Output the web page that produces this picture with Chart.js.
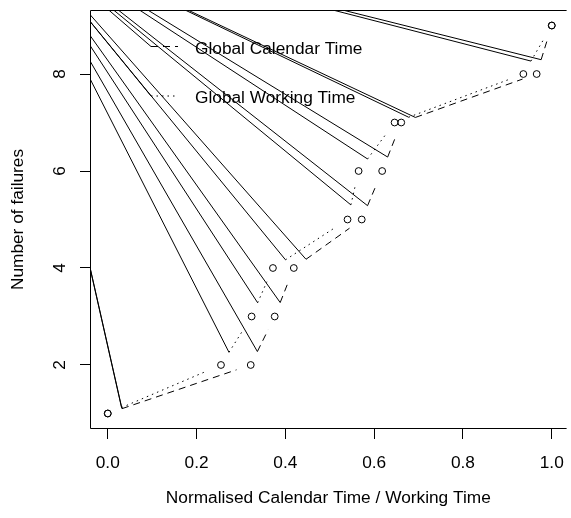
<!DOCTYPE html>
<html>
<head>
<meta charset="utf-8">
<script src="https://cdn.jsdelivr.net/npm/chart.js@4.4.1/dist/chart.umd.min.js"></script>
<style>
    html, body { margin: 0; padding: 0; background: #fff; overflow: hidden; }
    #wrap { width: 571px; height: 518px; }
</style>
</head>
<body>
<div id="wrap"><canvas id="failures-chart" width="571" height="518"></canvas></div>
<script>
// failure number reached at each normalised time
const failureCount = [1, 2, 3, 4, 5, 6, 7, 8, 9];
const calendarTime = [0.000, 0.322, 0.376, 0.419, 0.572, 0.618, 0.661, 0.966, 1.000];
const workingTime = [0.000, 0.255, 0.324, 0.372, 0.540, 0.565, 0.646, 0.936, 1.000];
const seriesLabels = ['Global Calendar Time', 'Global Working Time'];
const xTicks = [0, 0.2, 0.4, 0.6, 0.8, 1.0];
const yTicks = [2, 4, 6, 8];
// every dashed / dotted stroke drags a solid line in from this point (off the plot)
const strayFrom = [-0.213, 11.02];

const lineDashes = [[7, 5], [1.5, 4]];
const GAP = 15; // type "b" gap around each circle, px
const FONT = {family: '"Liberation Sans", Arial, sans-serif', size: 17.3, lineHeight: 1.2};

Chart.defaults.color = '#000';
Chart.defaults.font.family = FONT.family;
Chart.defaults.font.size = FONT.size;

const toPoints = (xs) => xs.map((x, i) => ({x: x, y: failureCount[i]}));

const circles = {
    showLine: false,
    pointStyle: 'circle',
    pointRadius: 3.4,
    pointHoverRadius: 3.4,
    pointBorderWidth: 1,
    pointBorderColor: '#000',
    pointBackgroundColor: 'rgba(0,0,0,0)',
};

// R style type="b" lines, plus the stray solid strokes and the legend
const typeBLines = {
    id: 'typeBLines',
    afterDatasetsDraw(chart) {
        const {ctx, chartArea, scales: {x, y}} = chart;
        const ox = x.getPixelForValue(strayFrom[0]);
        const oy = y.getPixelForValue(strayFrom[1]);
        const stroke = (x0, y0, x1, y1, dash) => {
            ctx.setLineDash(dash);
            ctx.beginPath();
            ctx.moveTo(x0, y0);
            ctx.lineTo(x1, y1);
            ctx.stroke();
        };
        ctx.save();
        ctx.beginPath();
        ctx.rect(chartArea.left, chartArea.top, chartArea.right - chartArea.left, chartArea.bottom - chartArea.top);
        ctx.clip();
        ctx.strokeStyle = '#000';
        ctx.lineWidth = 1;
        chart.data.datasets.forEach((ds, k) => {
            const pts = ds.data.map(p => [x.getPixelForValue(p.x), y.getPixelForValue(p.y)]);
            for (let i = 0; i < pts.length - 1; i++) {
                const [x0, y0] = pts[i];
                const [x1, y1] = pts[i + 1];
                const len = Math.hypot(x1 - x0, y1 - y0);
                if (len <= 2 * GAP) {
                    continue;
                }
                const ux = (x1 - x0) / len;
                const uy = (y1 - y0) / len;
                const ax = x0 + ux * GAP;
                const ay = y0 + uy * GAP;
                stroke(ox, oy, ax, ay, []);
                stroke(ax, ay, x1 - ux * GAP, y1 - uy * GAP, lineDashes[k]);
            }
        });
        // legend, no box
        const legendLeft = 151;
        const legendRows = [46.5, 96];
        seriesLabels.forEach((label, k) => {
            const ly = legendRows[k];
            stroke(ox, oy, legendLeft, ly, []);
            stroke(legendLeft, ly, legendLeft + 27, ly, lineDashes[k]);
        });
        ctx.setLineDash([]);
        ctx.fillStyle = '#000';
        ctx.font = FONT.size + 'px ' + FONT.family;
        ctx.textBaseline = 'middle';
        ctx.textAlign = 'left';
        seriesLabels.forEach((label, k) => {
            ctx.fillText(label, 195, legendRows[k] + 2.5);
        });
        ctx.restore();
    },
    afterDraw(chart) {
        // plot box; its right side sits just past the canvas edge in the original
        const {ctx, chartArea} = chart;
        const l = Math.round(chartArea.left) + 0.5;
        const t = Math.round(chartArea.top) + 0.5;
        const b = Math.round(chartArea.bottom) - 0.5;
        ctx.save();
        ctx.strokeStyle = '#000';
        ctx.lineWidth = 1;
        ctx.beginPath();
        ctx.moveTo(chartArea.right, t);
        ctx.lineTo(l, t);
        ctx.lineTo(l, b);
        ctx.lineTo(chartArea.right, b);
        ctx.stroke();
        ctx.restore();
    }
};

new Chart(document.querySelector('#failures-chart'), {
    type: 'scatter',
    data: {
        datasets: [
            {label: seriesLabels[0], data: toPoints(calendarTime), ...circles},
            {label: seriesLabels[1], data: toPoints(workingTime), ...circles},
        ]
    },
    options: {
        responsive: false,
        animation: false,
        events: [],
        layout: {padding: {top: 10, right: 0, bottom: 0, left: 0}},
        plugins: {legend: {display: false}, tooltip: {enabled: false}},
        scales: {
            x: {
                type: 'linear',
                min: -0.04,
                max: 1.0334,
                afterBuildTicks: (axis) => {
                    axis.ticks = xTicks.map(v => ({value: v}));
                },
                afterFit: (axis) => {
                    axis.height = 89;
                    axis.paddingLeft = 0;
                    axis.paddingRight = 0;
                },
                ticks: {
                    callback: (v) => v.toFixed(1),
                    padding: 14,
                    maxRotation: 0,
                    font: FONT,
                    color: '#000',
                },
                grid: {drawOnChartArea: false, drawTicks: true, tickLength: 10, color: '#000', lineWidth: 1},
                border: {display: false},
                title: {
                    display: true,
                    text: 'Normalised Calendar Time / Working Time',
                    color: '#000',
                    font: FONT,
                    padding: {top: 0, bottom: 9},
                },
            },
            y: {
                type: 'linear',
                min: 0.68,
                max: 9.32,
                afterBuildTicks: (axis) => {
                    axis.ticks = yTicks.map(v => ({value: v}));
                },
                afterFit: (axis) => {
                    axis.width = 90;
                    axis.paddingTop = 0;
                    axis.paddingBottom = 0;
                },
                ticks: {
                    callback: (v) => String(v),
                    minRotation: 90,
                    maxRotation: 90,
                    crossAlign: 'center',
                    padding: 15.2,
                    font: FONT,
                    color: '#000',
                },
                grid: {drawOnChartArea: false, drawTicks: true, tickLength: 10, color: '#000', lineWidth: 1},
                border: {display: false},
                title: {
                    display: true,
                    text: 'Number of failures',
                    color: '#000',
                    font: FONT,
                    padding: {top: 7.6, bottom: 0},
                },
            },
        },
    },
    plugins: [typeBLines],
});
</script>
</body>
</html>
